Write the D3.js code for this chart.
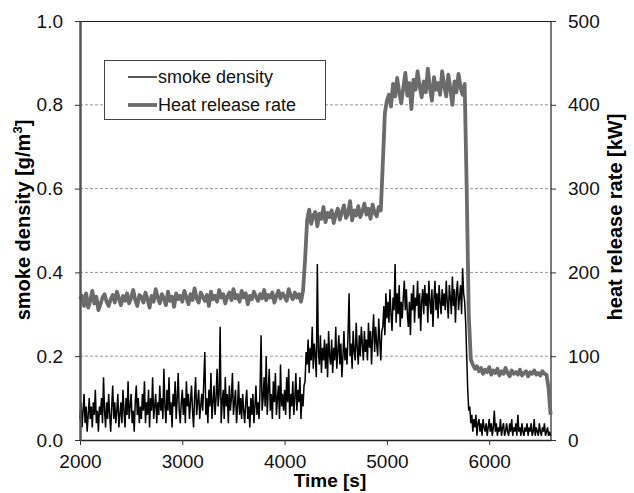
<!DOCTYPE html>
<html>
<head>
<meta charset="utf-8">
<script src="https://cdn.jsdelivr.net/npm/d3@7"></script>
<style>
  body { margin: 0; background: #fff; }
  text { font-family: "Liberation Sans", Arial, sans-serif; }
</style>
</head>
<body>
<div id="chart"></div>
<script>
// Both curves start at 2000 s; heat release read every 20 s, smoke every 10 s
const tStart = 2000;
const hrrStep = 20;
const smokeStep = 10;

// Heat release rate [kW]
const heatRelease = [
  168,172,160,175,158,166,178,163,171,155,
  162,170,174,165,160,168,173,164,177,169,
  161,172,166,175,163,170,179,167,160,173,
  171,164,176,168,158,172,165,180,170,163,
  174,169,161,177,166,171,159,175,168,172,
  165,178,170,162,174,167,181,169,164,176,
  171,166,173,160,177,168,172,165,179,170,
  174,163,171,176,167,180,169,173,165,178,
  170,175,162,172,168,177,171,166,174,169,
  179,167,173,170,176,164,172,178,169,175,
  171,166,180,172,168,176,170,174,165,178,
  215,262,275,258,268,272,255,270,264,278,
  260,271,266,274,259,269,276,263,272,280,
  265,270,285,262,274,268,279,266,273,282,
  269,276,264,281,271,267,278,274,
  330,390,405,412,398,425,410,432,415,402,
  420,438,411,426,395,430,418,440,422,409,
  428,415,443,420,405,433,418,426,412,440,
  423,410,436,419,400,428,415,437,421,412,
  425,
  300,150,96,90,85,88,82,86,79,84,
  81,87,78,83,80,85,77,82,79,86,
  80,76,83,79,81,78,84,77,80,82,
  76,81,79,83,78,80,77,82,79,78,
  62,30
];

// Smoke density [g/m3] (one row = 200 s)
const smokeDensity = [
  // 2000 - 4190 s
  0.05,0.09,0.03,0.07,0.11,0.04,0.08,0.02,0.06,0.10,0.05,0.08,0.03,0.09,0.06,0.12,0.04,0.07,0.02,0.08,
  0.06,0.10,0.04,0.15,0.07,0.03,0.09,0.05,0.11,0.06,0.02,0.08,0.13,0.05,0.09,0.04,0.07,0.11,0.03,0.06,
  0.09,0.04,0.12,0.07,0.03,0.10,0.06,0.14,0.05,0.08,0.11,0.04,0.07,0.02,0.09,0.13,0.06,0.10,0.04,0.08,
  0.05,0.11,0.07,0.14,0.04,0.09,0.06,0.12,0.03,0.10,0.07,0.15,0.05,0.08,0.11,0.04,0.09,0.06,0.13,0.07,
  0.10,0.05,0.17,0.08,0.04,0.12,0.07,0.15,0.06,0.09,0.03,0.11,0.08,0.14,0.05,0.10,0.16,0.07,0.04,0.09,
  0.12,0.06,0.10,0.04,0.14,0.08,0.11,0.05,0.09,0.13,0.07,0.03,0.10,0.15,0.06,0.09,0.12,0.05,0.08,0.11,
  0.07,0.14,0.21,0.06,0.10,0.04,0.12,0.08,0.16,0.05,0.09,0.13,0.06,0.10,0.17,0.08,0.11,0.27,0.04,0.09,
  0.12,0.05,0.15,0.08,0.11,0.04,0.13,0.07,0.10,0.16,0.06,0.09,0.12,0.04,0.08,0.14,0.06,0.10,0.05,0.11,
  0.07,0.04,0.09,0.12,0.05,0.08,0.03,0.10,0.06,0.11,0.04,0.08,0.13,0.06,0.09,0.05,0.12,0.25,0.07,0.10,
  0.15,0.08,0.20,0.06,0.12,0.17,0.07,0.11,0.05,0.14,0.09,0.16,0.06,0.10,0.13,0.05,0.18,0.08,0.11,0.07,
  0.12,0.06,0.15,0.09,0.17,0.05,0.11,0.08,0.14,0.06,0.10,0.16,0.07,0.12,0.09,0.15,0.05,0.11,0.08,0.13,
  // 4200 - 4950 s
  0.14,0.21,0.18,0.24,0.16,0.22,0.19,0.27,0.17,0.23,0.20,0.15,0.42,0.21,0.18,0.25,0.16,0.22,0.19,0.24,
  0.17,0.23,0.15,0.26,0.20,0.18,0.24,0.16,0.22,0.19,0.27,0.17,0.21,0.25,0.18,0.23,0.15,0.20,0.26,0.19,
  0.22,0.18,0.25,0.35,0.20,0.23,0.17,0.26,0.21,0.19,0.28,0.22,0.18,0.25,0.20,0.27,0.23,0.19,0.26,0.21,
  0.24,0.19,0.28,0.22,0.26,0.18,0.25,0.30,0.21,0.27,0.23,0.20,0.29,0.24,0.19,0.26,
  // 4960 - 5770 s
  0.27,0.32,0.25,0.35,0.29,0.33,0.28,0.36,0.30,0.26,0.34,0.31,0.42,0.28,0.35,0.30,0.37,0.27,0.33,0.29,
  0.34,0.38,0.31,0.36,0.30,0.27,0.33,0.25,0.35,0.31,0.37,0.28,0.34,0.32,0.38,0.29,0.35,0.26,0.33,0.36,
  0.30,0.37,0.32,0.35,0.28,0.38,0.33,0.30,0.36,0.27,0.34,0.38,0.31,0.35,0.29,0.37,0.33,0.30,0.36,0.32,
  0.35,0.31,0.38,0.33,0.29,0.37,0.34,0.30,0.39,0.32,0.36,0.28,0.35,0.38,0.31,0.34,0.37,0.30,0.41,0.35,
  0.33,0.28,
  // 5780 - 6600 s
  0.20,0.12,0.07,0.08,0.04,0.06,0.02,0.05,0.03,0.06,0.01,0.04,0.05,0.02,0.04,0.01,0.05,0.03,0.02,0.04,
  0.01,0.03,0.05,0.02,0.04,0.01,0.03,0.07,0.02,0.04,0.01,0.03,0.02,0.05,0.01,0.03,0.04,0.01,0.02,0.04,
  0.02,0.01,0.04,0.02,0.05,0.01,0.03,0.02,0.04,0.01,0.06,0.02,0.03,0.01,0.04,0.02,0.01,0.03,0.02,0.04,
  0.01,0.03,0.02,0.04,0.01,0.02,0.05,0.01,0.03,0.02,0.01,0.04,0.02,0.01,0.03,0.02,0.04,0.01,0.02,0.03,
  0.01,0.02,0.01
];

const xTicks = [2000, 3000, 4000, 5000, 6000];
const leftTicks = [0, 0.2, 0.4, 0.6, 0.8, 1.0];
const rightTicks = [0, 100, 200, 300, 400, 500];
const gridValues = [0.2, 0.4, 0.6, 0.8];

// Setup
const width = 634;
const height = 493;
const margin = {top: 21, right: 83, bottom: 53, left: 80};
const innerW = width - margin.left - margin.right;
const innerH = height - margin.top - margin.bottom;

const svg = d3.select("#chart")
    .append("svg")
    .attr("width", width)
    .attr("height", height);

const g = svg.append("g")
    .attr("transform", `translate(${margin.left},${margin.top})`);

const x = d3.scaleLinear().domain([2000, 6604]).range([0, innerW]);
const yLeft = d3.scaleLinear().domain([0, 1]).range([innerH, 0]);
const yRight = d3.scaleLinear().domain([0, 500]).range([innerH, 0]);

// dashed grid
g.selectAll(".grid")
  .data(gridValues)
  .enter().append("line")
    .attr("x1", 0)
    .attr("x2", innerW)
    .attr("y1", d => yLeft(d))
    .attr("y2", d => yLeft(d))
    .attr("stroke", "#999")
    .attr("stroke-dasharray", "3,2")
    .attr("stroke-width", 1);

// frame (top and right)
g.append("path")
    .attr("d", `M0,0.5H${innerW}V${innerH}`)
    .attr("fill", "none")
    .attr("stroke", "#222")
    .attr("stroke-width", 1.2);

const hrrLine = d3.line()
    .x((d, i) => x(tStart + i * hrrStep))
    .y(d => yRight(d));

const smokeLine = d3.line()
    .x((d, i) => x(tStart + i * smokeStep))
    .y(d => yLeft(d));

g.append("path")
    .datum(heatRelease)
    .attr("d", hrrLine)
    .attr("fill", "none")
    .attr("stroke", "#6b6b6b")
    .attr("stroke-width", 3.8)
    .attr("stroke-linejoin", "round");

g.append("path")
    .datum(smokeDensity)
    .attr("d", smokeLine)
    .attr("fill", "none")
    .attr("stroke", "#000")
    .attr("stroke-width", 1.5);

// axes
const tickFont = "19px";

const xAxis = g.append("g")
    .attr("transform", `translate(0,${innerH})`)
    .call(d3.axisBottom(x).tickValues(xTicks).tickFormat(d3.format("d")).tickSize(5).tickSizeOuter(0).tickPadding(10));

const leftAxis = g.append("g")
    .call(d3.axisLeft(yLeft).tickValues(leftTicks).tickFormat(d3.format(".1f")).tickSize(5).tickSizeOuter(0).tickPadding(12));

const rightAxis = g.append("g")
    .attr("transform", `translate(${innerW},0)`)
    .call(d3.axisRight(yRight).tickValues(rightTicks).tickFormat(d3.format("d")).tickSize(5).tickSizeOuter(0).tickPadding(12));

[xAxis, leftAxis, rightAxis].forEach(a => {
  a.selectAll("text")
      .attr("font-size", tickFont)
      .attr("font-family", "Liberation Sans, Arial, sans-serif")
      .attr("fill", "#111");
  a.selectAll(".tick line").attr("stroke", "#333");
});
rightAxis.select(".domain").remove();
xAxis.select(".domain").attr("stroke", "#222").attr("stroke-width", 1.5);
leftAxis.select(".domain").attr("stroke", "#555").attr("stroke-width", 2.5);

// axis titles
svg.append("text")
    .attr("x", 330)
    .attr("y", 487)
    .attr("text-anchor", "middle")
    .attr("font-size", "19px")
    .attr("font-weight", "bold")
    .text("Time [s]");

const leftTitle = svg.append("text")
    .attr("transform", "translate(30,220) rotate(-90)")
    .attr("text-anchor", "middle")
    .attr("font-size", "20px")
    .attr("font-weight", "bold");
leftTitle.append("tspan").text("smoke density [g/m");
leftTitle.append("tspan").attr("font-size", "13px").attr("dy", -8).text("3");
leftTitle.append("tspan").attr("dy", 8).text("]");

svg.append("text")
    .attr("transform", "translate(622,217) rotate(-90)")
    .attr("text-anchor", "middle")
    .attr("font-size", "20px")
    .attr("font-weight", "bold")
    .text("heat release rate [kW]");

// legend
const legend = svg.append("g");
legend.append("rect")
    .attr("x", 104.5)
    .attr("y", 60.5)
    .attr("width", 221)
    .attr("height", 59)
    .attr("fill", "#fff")
    .attr("stroke", "#444")
    .attr("stroke-width", 1);

const legendItems = [
  {label: "smoke density", color: "#000", w: 1.3},
  {label: "Heat release rate", color: "#6b6b6b", w: 3.8}
];
legendItems.forEach((item, i) => {
  const cy = 77 + i * 28;
  legend.append("line")
      .attr("x1", 128).attr("x2", 157)
      .attr("y1", cy).attr("y2", cy)
      .attr("stroke", item.color)
      .attr("stroke-width", item.w);
  legend.append("text")
      .attr("x", 158)
      .attr("y", cy + 6)
      .attr("font-size", "18px")
      .attr("fill", "#111")
      .text(item.label);
});
</script>
</body>
</html>
